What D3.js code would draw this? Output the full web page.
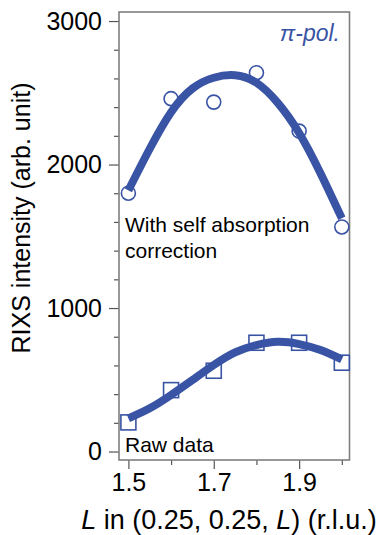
<!DOCTYPE html>
<html lang="en">
<head>
    <meta charset="UTF-8">
    <title>RIXS intensity vs L</title>
    <style>
        body {
            margin: 0;
            padding: 0;
            background: #fff;
        }
        svg {
            font-family: "Liberation Sans", Arial, sans-serif;
        }
        .frame {
            fill: none;
            stroke: #7f7f7f;
            stroke-width: 1.6px;
        }
        .tick line {
            stroke: #555;
            stroke-width: 1.2px;
        }
        .fit {
            fill: none;
            stroke: #3a54a5;
            stroke-width: 8px;
        }
    </style>
</head>
<body>
    <div id="chart"></div>

    <script src="https://d3js.org/d3.v7.min.js"></script>
    <script>
        // Measured points
        const L = [1.5, 1.6, 1.7, 1.8, 1.9, 2.0];
        const corrected = [1800, 2459, 2435, 2640, 2233, 1565];
        const raw = [203, 428, 563, 758, 758, 619];

        // Fitted curves
        const fitL = [1.5, 1.55, 1.6, 1.65, 1.7, 1.75, 1.8, 1.85, 1.9, 1.95, 2.0];
        const fitCorrected = [1820, 2110, 2365, 2530, 2605, 2622, 2570, 2430, 2220, 1940, 1626];
        const fitRaw = [231, 301, 394, 498, 603, 691, 742, 765, 749, 707, 642];

        // Ticks
        const xMajor = [1.5, 1.7, 1.9];
        const xMinor = [1.6, 1.8, 2.0];
        const yMajor = [0, 1000, 2000, 3000];
        const yMinor = [200, 400, 600, 800, 1200, 1400, 1600, 1800, 2200, 2400, 2600, 2800];

        const blue = "#3a54a5";
        const width = 385, height = 535;

        const svg = d3.select("#chart").append("svg")
            .attr("width", width)
            .attr("height", height);

        const x = d3.scaleLinear().domain([1.478, 2.018]).range([119, 349.5]);
        const y = d3.scaleLinear().domain([-59, 3063]).range([460, 12]);

        // Axes (ticks only, frame drawn separately)
        const xAxisMajor = d3.axisBottom(x).tickValues(xMajor).tickSize(9).tickPadding(4)
            .tickFormat(d3.format(".1f"));
        const xAxisMinor = d3.axisBottom(x).tickValues(xMinor).tickSize(5).tickFormat("");
        const yAxisMajor = d3.axisLeft(y).tickValues(yMajor).tickSize(10).tickPadding(7)
            .tickFormat(d3.format("d"));
        const yAxisMinor = d3.axisLeft(y).tickValues(yMinor).tickSize(5).tickFormat("");

        [xAxisMajor, xAxisMinor].forEach(a => {
            const g = svg.append("g").attr("transform", "translate(0,460)").call(a);
            g.select(".domain").remove();
        });
        [yAxisMajor, yAxisMinor].forEach(a => {
            const g = svg.append("g").attr("transform", "translate(119,0)").call(a);
            g.select(".domain").remove();
        });
        svg.selectAll(".tick text")
            .attr("fill", "#000")
            .style("font-size", "25px");

        // Frame
        svg.append("rect")
            .attr("class", "frame")
            .attr("x", 119).attr("y", 12)
            .attr("width", 349.5 - 119).attr("height", 460 - 12);

        // Markers
        svg.selectAll(".circ")
            .data(L.map((l, i) => [l, corrected[i]]))
            .enter().append("circle")
            .attr("cx", d => x(d[0]))
            .attr("cy", d => y(d[1]))
            .attr("r", 7)
            .attr("fill", "#fff")
            .attr("stroke", blue)
            .attr("stroke-width", 1.6);

        svg.selectAll(".sq")
            .data(L.map((l, i) => [l, raw[i]]))
            .enter().append("rect")
            .attr("x", d => x(d[0]) - 7.5)
            .attr("y", d => y(d[1]) - 7.5)
            .attr("width", 15)
            .attr("height", 15)
            .attr("fill", "#fff")
            .attr("stroke", blue)
            .attr("stroke-width", 1.6);

        // Fit lines on top of markers
        const line = d3.line()
            .x(d => x(d[0]))
            .y(d => y(d[1]))
            .curve(d3.curveNatural);

        svg.append("path").attr("class", "fit")
            .attr("d", line(fitL.map((l, i) => [l, fitCorrected[i]])));
        svg.append("path").attr("class", "fit")
            .attr("d", line(fitL.map((l, i) => [l, fitRaw[i]])));

        // Labels
        svg.append("text")
            .attr("x", 340).attr("y", 41)
            .attr("text-anchor", "end")
            .attr("fill", blue)
            .style("font-size", "23px")
            .style("font-style", "italic")
            .text("π-pol.");

        svg.append("text")
            .attr("x", 125).attr("y", 232)
            .style("font-size", "21px")
            .text("With self absorption");
        svg.append("text")
            .attr("x", 125).attr("y", 258)
            .style("font-size", "21px")
            .text("correction");

        svg.append("text")
            .attr("x", 125).attr("y", 452)
            .style("font-size", "21px")
            .text("Raw data");

        // Axis titles
        svg.append("text")
            .attr("transform", "translate(30,218) rotate(-90)")
            .attr("text-anchor", "middle")
            .style("font-size", "25px")
            .text("RIXS intensity (arb. unit)");

        const xt = svg.append("text")
            .attr("x", 229).attr("y", 529)
            .attr("text-anchor", "middle")
            .style("font-size", "27px");
        xt.append("tspan").style("font-style", "italic").text("L");
        xt.append("tspan").text(" in (0.25, 0.25, ");
        xt.append("tspan").style("font-style", "italic").text("L");
        xt.append("tspan").text(") (r.l.u.)");
    </script>
</body>
</html>
